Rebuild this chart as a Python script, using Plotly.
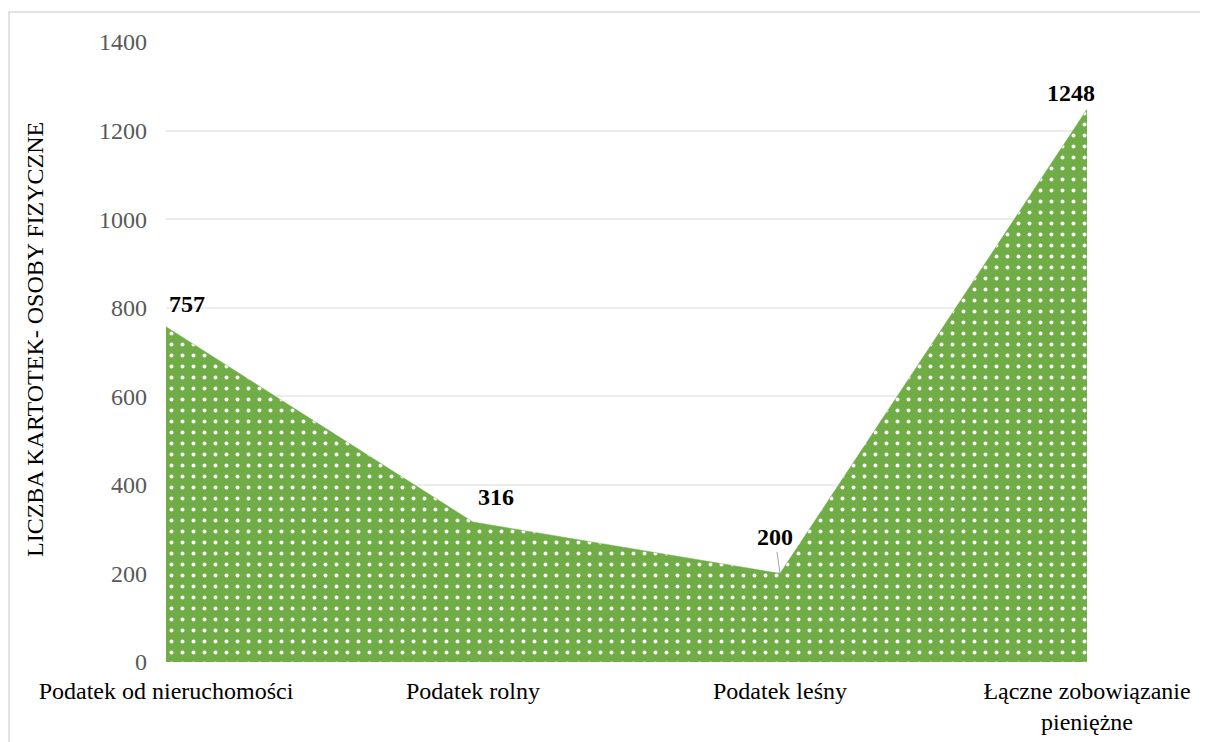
import plotly.graph_objects as go

categories = ["Podatek od nieruchomości", "Podatek rolny", "Podatek leśny", "Łączne zobowiązanie<br>pieniężne"]
values = [757, 316, 200, 1248]
y_ticks = [0, 200, 400, 600, 800, 1000, 1200, 1400]
y_title = "LICZBA KARTOTEK- OSOBY FIZYCZNE"

GREEN = "#70AD47"
FONT = "Liberation Serif, Times New Roman, serif"

xpos = list(range(len(categories)))

L, T, PW, PH = 158, 34, 921, 620

fig = go.Figure()
fig.add_trace(go.Scatter(
    x=xpos, y=values, mode="lines", fill="tozeroy",
    line=dict(color=GREEN, width=0.5),
    fillcolor=GREEN,
    fillpattern=dict(shape=".", bgcolor=GREEN, fgcolor="white", size=11, solidity=0.1, fillmode="replace"),
    hoverinfo="skip", showlegend=False,
))

# data labels
offsets = [(21, 23), (23, 25), None, (-16, 16)]
for i, v in enumerate(values):
    if offsets[i] is None:
        fig.add_annotation(x=xpos[i], y=v, text=f"<b>{v}</b>", showarrow=True,
                           arrowhead=0, arrowwidth=1, arrowcolor="#A6A6A6",
                           ax=-5, ay=-36, font=dict(family=FONT, size=24, color="black"))
    else:
        fig.add_annotation(x=xpos[i], y=v, text=f"<b>{v}</b>", showarrow=False,
                           xshift=offsets[i][0], yshift=offsets[i][1],
                           font=dict(family=FONT, size=24, color="black"))

# y-axis title
fig.add_annotation(xref="paper", yref="paper", x=(35 - 166) / PW, y=(662 - 340) / PH,
                   text=y_title, textangle=-90, showarrow=False,
                   xanchor="center", yanchor="middle",
                   font=dict(family=FONT, size=24, color="black"))

# outer border
fig.add_shape(type="rect", xref="paper", yref="paper",
              x0=(1 - L) / PW, x1=1.3, y0=-0.3, y1=1 + (T - 4) / PH,
              line=dict(color="#D9D9D9", width=1.5), fillcolor="rgba(0,0,0,0)", layer="below")

fig.update_layout(
    width=1208, height=742,
    margin=dict(l=L, r=1208 - L - PW, t=T, b=742 - T - PH, autoexpand=False),
    paper_bgcolor="white", plot_bgcolor="white",
    font=dict(family=FONT),
    xaxis=dict(
        tickmode="array", tickvals=xpos, ticktext=categories,
        range=[0, len(categories) - 1], showgrid=False, zeroline=False,
        showline=False, ticks="", tickfont=dict(size=24, color="black"),
        ticklabelstandoff=12, fixedrange=True,
    ),
    yaxis=dict(
        range=[0, 1400], tickvals=y_ticks, showgrid=True, gridcolor="#EDEDED",
        gridwidth=1.5, zeroline=False, showline=False, ticks="",
        tickfont=dict(size=24, color="#595959"), ticklabelstandoff=18,
        fixedrange=True,
    ),
)

fig.write_html("out.html")
